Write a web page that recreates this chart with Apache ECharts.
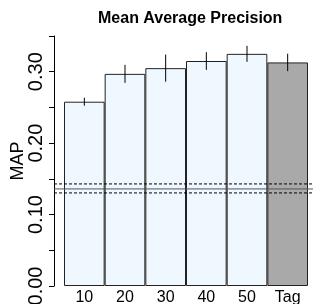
<!DOCTYPE html>
<html>
<head>
<meta charset="utf-8">
<script src="https://cdn.jsdelivr.net/npm/echarts@6/dist/echarts.min.js"></script>
<style>
  html, body { margin: 0; padding: 0; background: #fff; }
  #main { width: 313px; height: 304px; }
</style>
</head>
<body>
<div id="main"></div>
<script>
// data
var categories = ['10', '20', '30', '40', '50', 'Tag'];
var mapValues = [0.258, 0.297, 0.305, 0.315, 0.325, 0.313];
var mapErrors = [0.0056, 0.0126, 0.019, 0.0124, 0.0112, 0.0122];
var baselineMean = 0.1359;
var baselineLow = 0.1303;
var baselineHigh = 0.1429;
var yTickLabels = ['0.00', '0.10', '0.20', '0.30'];

var font = 'Liberation Sans, Arial, sans-serif';

var errorData = [];
for (var i = 0; i < categories.length; i++) {
    errorData.push([i, mapValues[i] - mapErrors[i], mapValues[i] + mapErrors[i]]);
}

function hline(v) {
    return [[0, v], [1, v]];
}

var chart = echarts.init(document.getElementById('main'));

var option = {
    animation: false,
    backgroundColor: '#fff',
    title: {
        text: 'Mean Average Precision',
        left: 93,
        top: 6,
        textStyle: { fontFamily: font, fontSize: 16, fontWeight: 'bold', color: '#000' }
    },
    grid: [
        { left: 64, right: 5, top: 36, bottom: 18, outerBoundsMode: 'none', containLabel: false },
        { left: 54, right: -10, top: 36, bottom: 18, outerBoundsMode: 'none', containLabel: false }
    ],
    xAxis: [{
        type: 'category',
        gridIndex: 0,
        data: categories,
        axisLine: { show: false },
        axisTick: { show: false },
        axisLabel: { fontFamily: font, fontSize: 16, color: '#000', margin: 4 }
    }, {
        type: 'value',
        gridIndex: 1,
        min: 0,
        max: 1,
        show: false
    }],
    yAxis: [{
        type: 'value',
        gridIndex: 0,
        min: 0,
        max: 0.35,
        interval: 0.05,
        offset: 10,
        name: 'MAP',
        nameLocation: 'middle',
        nameGap: 27,
        nameMoveOverlap: false,
        nameTextStyle: { fontFamily: font, fontSize: 18, color: '#000' },
        axisLine: { show: true, lineStyle: { color: '#000', width: 1 } },
        axisTick: { show: true, length: 5, lineStyle: { color: '#000' } },
        splitLine: { show: false },
        axisLabel: {
            rotate: 90,
            margin: 8,
            fontFamily: font,
            fontSize: 20,
            color: '#000',
            showMaxLabel: true,
            formatter: function(v) {
                var s = v.toFixed(2);
                return yTickLabels.indexOf(s) >= 0 ? s : '';
            }
        }
    }, {
        type: 'value',
        gridIndex: 1,
        min: 0,
        max: 0.35,
        show: false
    }],
    series: [{
        type: 'bar',
        xAxisIndex: 0,
        yAxisIndex: 0,
        data: mapValues,
        barWidth: '100%',
        barCategoryGap: 0,
        itemStyle: {
            borderColor: '#222',
            borderWidth: 1,
            color: function(p) {
                return categories[p.dataIndex] === 'Tag' ? '#a9a9a9' : '#f0f8ff';
            }
        }
    }, {
        type: 'custom',
        xAxisIndex: 0,
        yAxisIndex: 0,
        data: errorData,
        z: 5,
        renderItem: function(params, api) {
            var lo = api.coord([api.value(0), api.value(1)]);
            var hi = api.coord([api.value(0), api.value(2)]);
            return {
                type: 'line',
                shape: { x1: lo[0], y1: lo[1], x2: hi[0], y2: hi[1] },
                style: { stroke: '#000', lineWidth: 1 }
            };
        }
    }, {
        type: 'line',
        xAxisIndex: 1,
        yAxisIndex: 1,
        data: hline(baselineMean),
        symbol: 'none',
        z: 6,
        lineStyle: { color: '#555', width: 1 }
    }, {
        type: 'line',
        xAxisIndex: 1,
        yAxisIndex: 1,
        data: hline(baselineHigh),
        symbol: 'none',
        z: 6,
        lineStyle: { color: '#000', width: 1, type: [3, 2] }
    }, {
        type: 'line',
        xAxisIndex: 1,
        yAxisIndex: 1,
        data: hline(baselineLow),
        symbol: 'none',
        z: 6,
        lineStyle: { color: '#000', width: 1, type: [3, 2] }
    }]
};

chart.setOption(option);
</script>
</body>
</html>
